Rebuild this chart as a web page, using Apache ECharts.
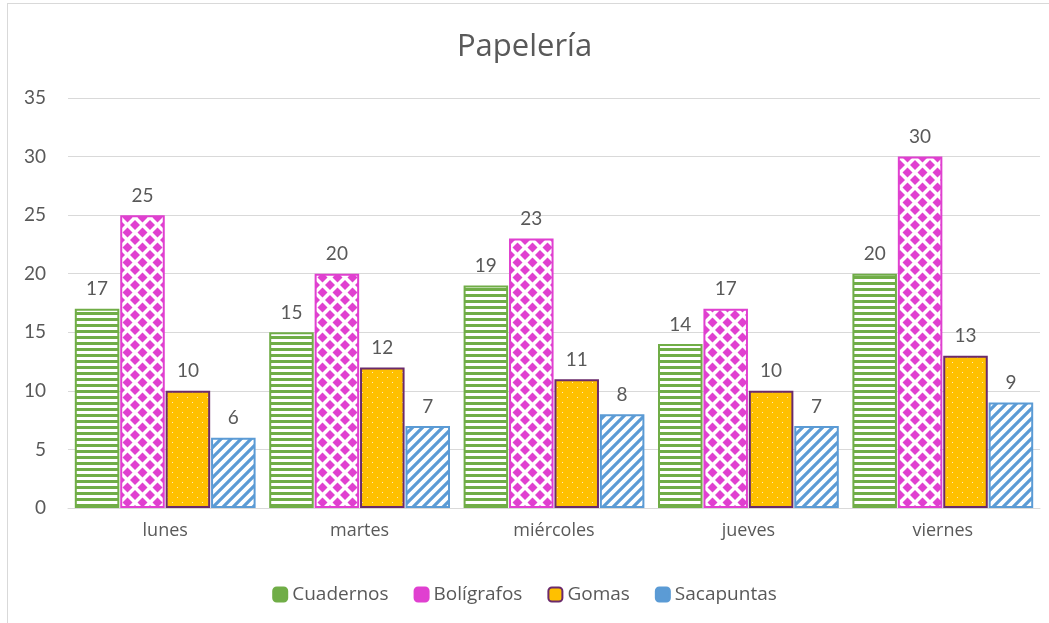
<!DOCTYPE html>
<html><head><meta charset="utf-8">
<script src="https://cdn.jsdelivr.net/npm/echarts@6/dist/echarts.min.js"></script>
<style>
html,body{margin:0;padding:0;background:#fff;}
#frame{position:absolute;left:7px;top:3px;width:1060px;height:640px;border-left:1px solid #d9d9d9;border-top:1px solid #d9d9d9;}
#main{position:absolute;left:0;top:0;width:1049px;height:623px;}
</style>
</head><body>
<div id="frame"></div>
<div id="main"></div>
<script>
const categories = ['lunes','martes','miércoles','jueves','viernes'];
const seriesNames = ['Cuadernos','Bolígrafos','Gomas','Sacapuntas'];
const cuadernos = [17,15,19,14,20];
const boligrafos = [25,20,23,17,30];
const gomas = [10,12,11,10,13];
const sacapuntas = [6,7,8,7,9];
const yTicks = [0,5,10,15,20,25,30,35];

function mk(w,h,draw){const c=document.createElement('canvas');c.width=w;c.height=h;const x=c.getContext('2d');draw(x);return c;}
const greenPat = mk(8,6,x=>{x.fillStyle='#fff';x.fillRect(0,0,8,6);x.fillStyle='#70AD47';x.fillRect(0,0,8,3);});
const magPat = mk(15,15,x=>{x.fillStyle='#fff';x.fillRect(0,0,15,15);x.fillStyle='#E040D0';
  const d=(cx,cy)=>{x.beginPath();x.moveTo(cx,cy-5);x.lineTo(cx+5,cy);x.lineTo(cx,cy+5);x.lineTo(cx-5,cy);x.closePath();x.fill();};
  d(0,0);d(15,0);d(0,15);d(15,15);d(7.5,7.5);});
const orPat = mk(10,10,x=>{x.fillStyle='#FFC000';x.fillRect(0,0,10,10);x.fillStyle='rgba(255,240,200,0.9)';x.fillRect(2,2,1,1);x.fillRect(7,7,1,1);});
const bluePat = mk(10,10,x=>{x.fillStyle='#fff';x.fillRect(0,0,10,10);x.strokeStyle='#5B9BD5';x.lineWidth=3.2;
  x.beginPath();x.moveTo(-2,12);x.lineTo(12,-2);x.moveTo(-7,7);x.lineTo(7,-7);x.moveTo(3,17);x.lineTo(17,3);x.stroke();});

const fills = [greenPat,magPat,orPat,bluePat];
const borders = ['#70AD47','#E040D0','#6B2A6B','#5B9BD5'];
const legendFill = ['#70AD47','#E040D0','#FFC000','#5B9BD5'];
const dataArr = [cuadernos,boligrafos,gomas,sacapuntas];
const F = 'Lato, "Open Sans", sans-serif';
const W = '"Open Sans", sans-serif';

const chart = echarts.init(document.getElementById('main'));
chart.setOption({
  animation:false,
  title:{text:'Papelería',left:'center',top:27,textStyle:{fontFamily:W,fontSize:31,fontWeight:'normal',color:'#595959'}},
  grid:{left:68,right:9,top:98,bottom:115},
  legend:{bottom:14,left:'center',itemWidth:14,itemHeight:14,itemGap:25,textStyle:{fontFamily:W,fontSize:19,color:'#595959'},
    data:seriesNames.map((n,i)=>({name:n,itemStyle:{color:legendFill[i],borderColor:borders[i],borderWidth:2}}))},
  xAxis:{type:'category',data:categories,axisTick:{show:false},axisLine:{lineStyle:{color:'#d9d9d9'}},
    axisLabel:{fontFamily:W,fontSize:18,color:'#595959',margin:14}},
  yAxis:{type:'value',min:0,max:35,interval:5,axisLabel:{fontFamily:F,fontSize:19,color:'#595959',margin:22},
    splitLine:{lineStyle:{color:'#d9d9d9'}}},
  series:dataArr.map((d,i)=>({
    name:seriesNames[i],type:'bar',data:d,barGap:'2%',barCategoryGap:'7%',
    itemStyle:{color:{image:fills[i],repeat:'repeat'},borderColor:borders[i],borderWidth:2},
    label:{show:true,position:'top',distance:10,fontFamily:F,fontSize:19,color:'#595959'}
  }))
});
</script>
</body></html>
